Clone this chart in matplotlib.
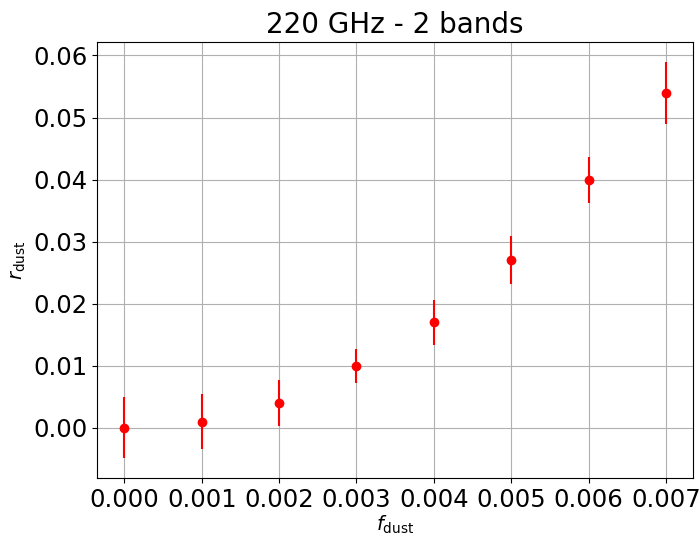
import matplotlib
matplotlib.use("Agg")
import matplotlib.pyplot as plt

f_dust = [0.000, 0.001, 0.002, 0.003, 0.004, 0.005, 0.006, 0.007]
r_dust = [0.000, 0.001, 0.004, 0.010, 0.017, 0.027, 0.040, 0.054]
r_err = [0.0049, 0.0044, 0.0037, 0.0027, 0.0036, 0.0039, 0.0037, 0.0050]

fig, ax = plt.subplots(figsize=(7.0, 5.36), dpi=100)
fig.subplots_adjust(left=0.139, right=0.99, top=0.922, bottom=0.108)

ax.errorbar(f_dust, r_dust, yerr=r_err, fmt="o", color="red")
ax.set_title("220 GHz - 2 bands", fontsize=20)
ax.set_xlabel(r"$f_{\rm dust}$", fontsize=14, labelpad=1)
ax.set_ylabel(r"$r_{\rm dust}$", fontsize=14)
ax.tick_params(labelsize=17.5)
ax.grid(True)

plt.savefig("out.png", dpi=100)
